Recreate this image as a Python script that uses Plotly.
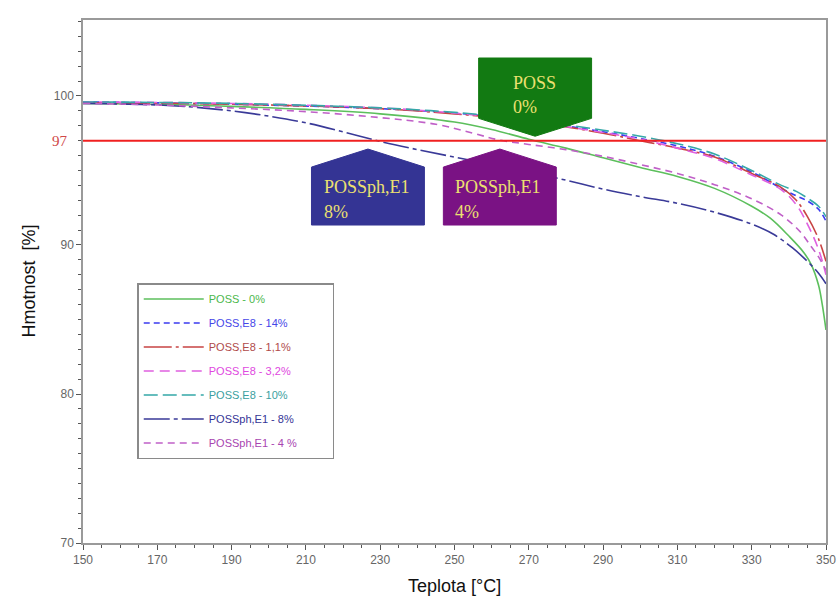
import plotly.graph_objects as go

# Thermogravimetric curves: mass [%] vs temperature [°C]
temps_poss0 = [150, 170, 190, 210, 230, 250, 260, 270, 280, 290, 300, 310, 320, 330, 335, 340, 344, 346, 348, 349, 350]
mass_poss0 = [99.5, 99.45, 99.3, 99.1, 98.8, 98.25, 97.75, 97.1, 96.5, 95.85, 95.2, 94.6, 93.8, 92.6, 91.8, 90.6, 89.5, 88.7, 87.3, 86.0, 84.3]

temps_e8 = [150, 190, 230, 250, 270, 290, 300, 310, 320, 330, 338, 342, 345, 348, 350]
mass_e8_14 = [99.6, 99.45, 99.15, 98.85, 98.35, 97.6, 97.15, 96.65, 95.95, 94.9, 93.8, 93.3, 92.95, 92.4, 91.6]
mass_e8_11 = [99.55, 99.45, 99.15, 98.8, 98.3, 97.5, 97.0, 96.5, 95.9, 94.8, 93.85, 93.0, 91.9, 90.4, 88.9]
mass_e8_32 = [99.6, 99.5, 99.2, 98.85, 98.3, 97.55, 97.1, 96.5, 95.8, 94.7, 93.7, 92.7, 91.4, 89.7, 88.0]
mass_e8_10 = [99.6, 99.5, 99.2, 98.9, 98.4, 97.7, 97.3, 96.8, 96.1, 95.0, 94.0, 93.6, 93.15, 92.6, 91.9]

temps_ph8 = [150, 170, 180, 190, 200, 210, 220, 230, 240, 250, 260, 270, 280, 290, 300, 310, 320, 330, 336, 341, 345, 348, 350]
mass_ph8 = [99.5, 99.4, 99.25, 99.0, 98.65, 98.2, 97.6, 96.95, 96.4, 95.9, 95.4, 94.9, 94.35, 93.75, 93.25, 92.8, 92.2, 91.4, 90.7, 89.8, 88.9, 88.1, 87.4]

temps_ph4 = [150, 170, 190, 210, 230, 245, 255, 262, 270, 280, 290, 300, 310, 320, 330, 338, 343, 346, 348, 350]
mass_ph4 = [99.5, 99.4, 99.2, 98.95, 98.55, 98.1, 97.5, 97.05, 96.75, 96.4, 95.95, 95.4, 94.8, 94.05, 93.1, 92.0, 90.9, 89.9, 89.2, 88.3]

series_names = ["POSS - 0%", "POSS,E8 - 14%", "POSS,E8 - 1,1%", "POSS,E8 - 3,2%",
                "POSS,E8 - 10%", "POSSph,E1 - 8%", "POSSph,E1 - 4 %"]
series_x = [temps_poss0, temps_e8, temps_e8, temps_e8, temps_e8, temps_ph8, temps_ph4]
series_y = [mass_poss0, mass_e8_14, mass_e8_11, mass_e8_32, mass_e8_10, mass_ph8, mass_ph4]
line_colors = ["#5cbf5c", "#3b3bf0", "#c84444", "#e060e0", "#35a8a8", "#3a3a98", "#c060c8"]
text_colors = ["#4cb84c", "#4646e8", "#b04a4a", "#e048e0", "#3aa0a0", "#343496", "#a844b0"]
line_dashes = ["solid", "6px,4px", "28px,4px,3px,4px", "10px,6px", "14px,5px", "26px,4px,4px,4px", "7px,5px"]

threshold = 97
x_ticks = list(range(150, 351, 20))
y_ticks = [70, 80, 90, 100]

# Callouts pointing at the 97 % crossing temperatures
callout_temps = [271.7, 226.7, 262.2]
callout_line1 = ["POSS", "POSSph,E1", "POSSph,E1"]
callout_line2 = ["0%", "8%", "4%"]
callout_fill = ["#127a12", "#343494", "#7a1284"]
callout_down = [True, False, False]

fig = go.Figure()

pad = "&nbsp;" * 10
for name, xs, ys, lc, tc, dash in zip(series_names, series_x, series_y, line_colors, text_colors, line_dashes):
    fig.add_trace(go.Scatter(
        x=xs, y=ys, mode="lines", line_shape="spline",
        line=dict(color=lc, width=1.6, dash=dash),
        name=f"<span style='color:{tc}'>{name}</span>{pad}",
        legendgroup=name,
    ))

fig.add_trace(go.Scatter(
    x=[150, 350], y=[threshold, threshold], mode="lines",
    line=dict(color="#f02020", width=2), showlegend=False, hoverinfo="skip",
))

half_w = 15.2
for t, l1, l2, fill, down in zip(callout_temps, callout_line1, callout_line2, callout_fill, callout_down):
    if down:
        tip, shoulder, far = 97.3, 98.5, 102.55
        tx = t - 6.4
        y1, y2 = 100.87, 99.26
    else:
        tip, shoulder, far = 96.44, 95.23, 91.34
        tx = t - 12.5
        y1, y2 = 93.89, 92.21
    path = (f"M {t - half_w},{far} L {t + half_w},{far} L {t + half_w},{shoulder} "
            f"L {t},{tip} L {t - half_w},{shoulder} Z")
    fig.add_shape(type="path", path=path, xref="x", yref="y",
                  fillcolor=fill, line=dict(color=fill, width=1))
    for txt, yy in ((l1, y1), (l2, y2)):
        fig.add_annotation(x=tx, y=yy, xref="x", yref="y", text=txt, showarrow=False,
                           xanchor="left", yanchor="middle",
                           font=dict(family="Liberation Serif", size=18, color="#ece070"))

# Red label for the 97 % level
fig.add_annotation(x=0, y=threshold, xref="paper", yref="y", text=str(threshold),
                   showarrow=False, xanchor="right", yanchor="middle", xshift=-13,
                   font=dict(family="Liberation Serif", size=15, color="#d04848"))

# Axis titles
fig.add_annotation(x=-0.074, y=0.5, xref="paper", yref="paper", text="Hmotnost  [%]",
                   showarrow=False, textangle=-90, xanchor="center", yanchor="middle",
                   font=dict(family="Liberation Sans", size=18, color="#111"))
fig.add_annotation(x=0.5, y=-0.082, xref="paper", yref="paper", text="Teplota [°C]",
                   showarrow=False, xanchor="center", yanchor="middle",
                   font=dict(family="Liberation Sans", size=18, color="#111"))

axis_common = dict(showline=True, linecolor="#9a9a9a", linewidth=1.5, mirror=True,
                   showgrid=False, zeroline=False, ticks="outside", tickcolor="#555",
                   ticklen=5, automargin=False,
                   tickfont=dict(family="Liberation Sans Narrow, Liberation Sans", size=12, color="#666"))

fig.update_xaxes(range=[150, 350], tickvals=x_ticks,
                 minor=dict(dtick=5, tick0=150, ticks="outside", ticklen=3, tickcolor="#555"),
                 **axis_common)
fig.update_yaxes(range=[70, 105.1], tickvals=y_ticks,
                 minor=dict(dtick=1, tick0=70, ticks="outside", ticklen=3, tickcolor="#555"),
                 **axis_common)

fig.update_layout(
    width=837, height=599, autosize=False,
    margin=dict(l=83, r=11, t=20, b=56),
    plot_bgcolor="white", paper_bgcolor="white",
    showlegend=True,
    legend=dict(x=0.073, y=0.497, xanchor="left", yanchor="top",
                bordercolor="#8a8a8a", borderwidth=1.5, bgcolor="white",
                font=dict(family="Liberation Sans", size=11),
                itemwidth=60, tracegroupgap=5),
)

fig.write_html("out.html")
